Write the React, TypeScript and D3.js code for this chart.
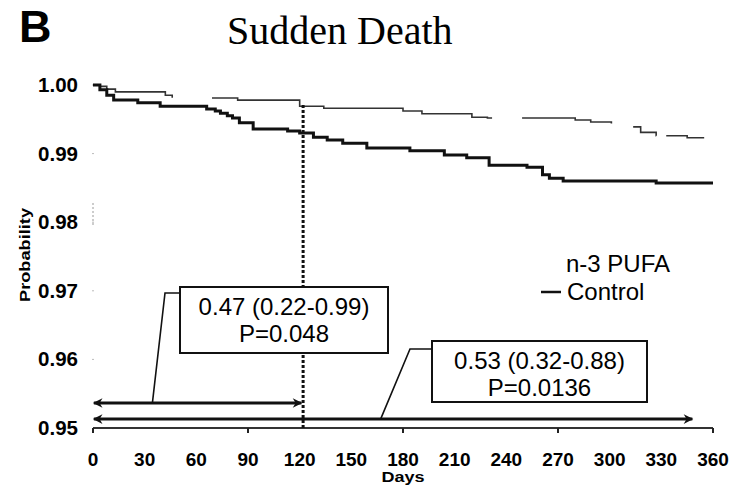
import React, { useEffect, useRef } from "react";
import * as d3 from "d3";

// Kaplan-Meier steps (day, survival probability)
const pufaDays = [0, 4, 8, 13, 42, 46, 84, 120, 134, 180, 191, 220, 229, 280, 289, 301, 305, 318, 327, 345, 360];
const pufaProb = [1.0, 0.9998, 0.9994, 0.999, 0.9985, 0.9981, 0.9978, 0.9969, 0.9966, 0.9962, 0.9958, 0.9953, 0.9952, 0.9949, 0.9946, 0.9942, 0.9939, 0.9931, 0.9926, 0.9923, 0.9923];

const controlDays = [0, 4, 8, 12, 26, 39, 66, 71, 74, 78, 81, 85, 93, 113, 120, 128, 136, 145, 159, 184, 204, 217, 230, 252, 261, 265, 273, 327, 360];
const controlProb = [1.0, 0.9993, 0.9985, 0.9978, 0.9974, 0.9969, 0.9965, 0.9962, 0.9959, 0.9955, 0.9952, 0.9945, 0.9936, 0.9933, 0.993, 0.9924, 0.992, 0.9915, 0.9908, 0.9904, 0.9898, 0.9894, 0.9883, 0.988, 0.9869, 0.9864, 0.986, 0.9857, 0.9857];

const xTicks = [0, 30, 60, 90, 120, 150, 180, 210, 240, 270, 300, 330, 360];
const xMajorTicks = [0, 90, 180, 270, 360];
const yTicks = [0.95, 0.96, 0.97, 0.98, 0.99, 1.0];

const landmarkDay = 122;
const box1Lines = ["0.47 (0.22-0.99)", "P=0.048"];
const box2Lines = ["0.53 (0.32-0.88)", "P=0.0136"];
const legendLabels = ["n-3 PUFA", "Control"];

const SuddenDeathChart = (props) => {
    const ref = useRef(null);

    useEffect(() => {
        const g = d3.select(ref.current);
        g.selectAll("*").remove();

        const x = d3.scaleLinear().domain([0, 360]).range([93, 713]);
        const y = d3.scaleLinear().domain([0.95, 1.0]).range([428, 85]);

        const sans = "Liberation Sans, Arial, sans-serif";

        // title + panel letter
        g.append("text")
            .attr("x", 19).attr("y", 42)
            .attr("font-family", sans).attr("font-weight", "bold")
            .attr("font-size", 45)
            .text("B");
        g.append("text")
            .attr("x", 227).attr("y", 44)
            .attr("font-family", "Liberation Serif, Times New Roman, serif")
            .attr("font-size", 40)
            .text("Sudden Death");

        // y axis labels
        g.selectAll(".ytick")
            .data(yTicks)
            .enter().append("text")
                .attr("x", 78)
                .attr("y", d => y(d) + 7)
                .attr("text-anchor", "end")
                .attr("font-family", sans).attr("font-weight", "bold")
                .attr("font-size", 20)
                .attr("textLength", 40).attr("lengthAdjust", "spacingAndGlyphs")
                .text(d => d3.format(".2f")(d));

        // faint y ticks
        g.selectAll(".ymark")
            .data(yTicks.slice(1))
            .enter().append("line")
                .attr("x1", 92).attr("x2", 94)
                .attr("y1", d => y(d)).attr("y2", d => y(d))
                .attr("stroke", "#bbb");
        g.append("line")
            .attr("x1", 93).attr("x2", 93)
            .attr("y1", y(0.9828)).attr("y2", y(0.9795))
            .attr("stroke", "#999").attr("stroke-dasharray", "2,2");

        g.append("text")
            .attr("transform", `translate(30, 255) rotate(-90)`)
            .attr("text-anchor", "middle")
            .attr("font-family", sans).attr("font-weight", "bold")
            .attr("font-size", 15)
            .attr("textLength", 94).attr("lengthAdjust", "spacingAndGlyphs")
            .text("Probability");

        // x axis
        g.append("line")
            .attr("x1", x(0)).attr("x2", x(360))
            .attr("y1", y(0.95)).attr("y2", y(0.95))
            .attr("stroke", "#333").attr("stroke-width", 2);
        g.selectAll(".xmajor")
            .data(xMajorTicks)
            .enter().append("line")
                .attr("x1", d => x(d)).attr("x2", d => x(d))
                .attr("y1", y(0.95)).attr("y2", y(0.95) + 5)
                .attr("stroke", "#222").attr("stroke-width", 2);
        g.selectAll(".xtick")
            .data(xTicks)
            .enter().append("text")
                .attr("x", d => x(d))
                .attr("y", 466)
                .attr("text-anchor", "middle")
                .attr("font-family", sans).attr("font-weight", "bold")
                .attr("font-size", 19)
                .text(d => d);
        g.append("text")
            .attr("x", x(180)).attr("y", 482)
            .attr("text-anchor", "middle")
            .attr("font-family", sans).attr("font-weight", "bold")
            .attr("font-size", 14)
            .attr("textLength", 43).attr("lengthAdjust", "spacingAndGlyphs")
            .text("Days");

        // survival curves
        const line = d3.line()
            .x(d => x(d[0]))
            .y(d => y(d[1]))
            .curve(d3.curveStepAfter);

        g.append("path")
            .datum(d3.zip(pufaDays, pufaProb))
            .attr("d", line)
            .attr("fill", "none")
            .attr("stroke", "#333")
            .attr("stroke-width", 1.6)
            .attr("stroke-dasharray", "92,40,300,30,95,25,32,10,40");

        g.append("path")
            .datum(d3.zip(controlDays, controlProb))
            .attr("d", line)
            .attr("fill", "none")
            .attr("stroke", "#111")
            .attr("stroke-width", 3);

        // landmark dotted line
        g.append("line")
            .attr("x1", x(landmarkDay)).attr("x2", x(landmarkDay))
            .attr("y1", y(0.9971)).attr("y2", y(0.95))
            .attr("stroke", "#111").attr("stroke-width", 3)
            .attr("stroke-dasharray", "3,2");

        // arrow markers
        const defs = g.append("defs");
        ["start", "end"].forEach(k => {
            defs.append("marker")
                .attr("id", "arr-" + k)
                .attr("viewBox", "0 0 10 10")
                .attr("refX", k === "end" ? 9 : 1).attr("refY", 5)
                .attr("markerWidth", 4.5).attr("markerHeight", 3.2)
                .attr("markerUnits", "strokeWidth")
                .attr("orient", "auto")
                .append("path")
                    .attr("d", k === "end" ? "M0,0 L10,5 L0,10 L3,5 Z" : "M10,0 L0,5 L10,10 L7,5 Z")
                    .attr("fill", "#111");
        });

        const arrows = [
            { from: 0.5, to: landmarkDay - 1, p: 0.95365 },
            { from: 0.5, to: 348, p: 0.9513 }
        ];
        g.selectAll(".arrow")
            .data(arrows)
            .enter().append("line")
                .attr("x1", d => x(d.from)).attr("x2", d => x(d.to))
                .attr("y1", d => y(d.p)).attr("y2", d => y(d.p))
                .attr("stroke", "#111").attr("stroke-width", 3)
                .attr("marker-start", "url(#arr-start)")
                .attr("marker-end", "url(#arr-end)");

        // annotation boxes with leader lines
        const boxes = [
            { x0: 180, y0: 287, w: 208, h: 66, lines: box1Lines, leader: [[180, 293], [165, 293], [x(34.5), y(0.95365)]] },
            { x0: 432, y0: 341, w: 215, h: 61, lines: box2Lines, leader: [[432, 349], [410, 349], [x(167), y(0.9513)]] }
        ];
        boxes.forEach(b => {
            g.append("rect")
                .attr("x", b.x0).attr("y", b.y0)
                .attr("width", b.w).attr("height", b.h)
                .attr("fill", "#fff")
                .attr("stroke", "#111").attr("stroke-width", 2);
            g.append("path")
                .attr("d", d3.line()(b.leader))
                .attr("fill", "none")
                .attr("stroke", "#111").attr("stroke-width", 1.6);
            b.lines.forEach((t, i) => {
                g.append("text")
                    .attr("x", b.x0 + b.w / 2)
                    .attr("y", b.y0 + 28 + i * 27)
                    .attr("text-anchor", "middle")
                    .attr("font-family", sans)
                    .attr("font-size", 24)
                    .text(t);
            });
        });

        // legend
        g.append("text")
            .attr("x", 566).attr("y", 272)
            .attr("font-family", sans).attr("font-size", 24)
            .text(legendLabels[0]);
        g.append("line")
            .attr("x1", 541).attr("x2", 561)
            .attr("y1", 292).attr("y2", 292)
            .attr("stroke", "#111").attr("stroke-width", 2.5);
        g.append("text")
            .attr("x", 567).attr("y", 300)
            .attr("font-family", sans).attr("font-size", 24)
            .text(legendLabels[1]);
    }, []);

    return (
        <svg width={props.width} height={props.height}
            style={{ position: "absolute", left: 0, top: 0, background: "#fff" }}>
            <g ref={ref} />
        </svg>
    );
};

export default function App() {
    return <SuddenDeathChart width={735} height={485} />;
}
